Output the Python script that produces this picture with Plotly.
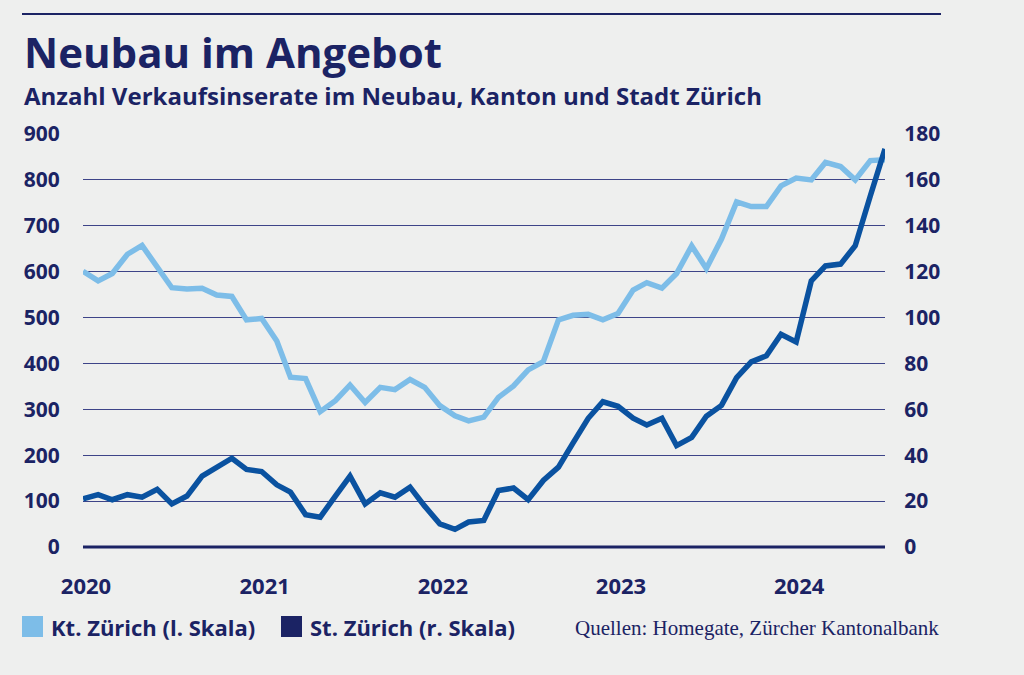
import pandas as pd
import plotly.graph_objects as go

months = pd.date_range("2020-01-01", "2024-07-01", freq="MS")

kt_zuerich = [601, 580, 596, 638, 657, 612, 565, 562, 564, 549, 546, 495,
              498, 449, 370, 367, 295, 319, 353, 315, 348, 343, 365, 348,
              308, 286, 275, 283, 326, 351, 386, 404, 495, 505, 507, 495,
              509, 560, 576, 564, 596, 656, 607, 671, 752, 742, 742, 787,
              804, 800, 838, 829, 800, 842, 844]

st_zuerich = [21.0, 22.8, 20.6, 22.8, 21.7, 25.1, 18.8, 22.2, 30.9, 34.8, 38.7, 33.8,
              32.9, 27.1, 23.9, 14.1, 13.0, 22.2, 30.9, 18.8, 23.6, 21.7, 26.1, 17.8,
              10.1, 7.7, 10.9, 11.6, 24.6, 25.7, 20.6, 29.0, 34.8, 45.4, 56.1, 63.3,
              61.3, 56.1, 53.2, 56.1, 44.2, 47.8, 57.0, 61.7, 73.8, 80.7, 83.3, 92.7,
              89.4, 116.0, 122.5, 123.3, 131.3, 153.1, 173.5]

left_ticks = [0, 100, 200, 300, 400, 500, 600, 700, 800, 900]
right_ticks = [0, 20, 40, 60, 80, 100, 120, 140, 160, 180]
year_ticks = ["2020", "2021", "2022", "2023", "2024"]

title = "Neubau im Angebot"
subtitle = "Anzahl Verkaufsinserate im Neubau, Kanton und Stadt Zürich"
legend_kt = "Kt. Zürich (l. Skala)"
legend_st = "St. Zürich (r. Skala)"
source = "Quellen: Homegate, Zürcher Kantonalbank"

NAVY = "#1b2364"
LIGHT = "#7dbde8"
DARK = "#0a52a0"
BG = "#eeefee"
FONT = "Open Sans"

# pixel helpers (plot area: x 83..885, y 134..547)
L, R, T, B = 83, 885, 134, 547
def px(x):
    return (x - L) / (R - L)
def py(y):
    return (B - y) / (B - T)

fig = go.Figure()
fig.add_trace(go.Scatter(x=months, y=kt_zuerich, mode="lines",
                         line=dict(color=LIGHT, width=5.5), name=legend_kt,
                         yaxis="y"))
fig.add_trace(go.Scatter(x=months, y=st_zuerich, mode="lines",
                         line=dict(color=DARK, width=5.5), name=legend_st,
                         yaxis="y2"))

tickfont = dict(family=FONT, size=21, color=NAVY, weight="bold")

fig.update_layout(
    width=1024, height=675,
    margin=dict(l=L, r=1024 - R, t=T, b=675 - B, pad=0),
    paper_bgcolor=BG, plot_bgcolor=BG,
    showlegend=False,
    xaxis=dict(
        range=[months[0], months[-1]],
        tickvals=[pd.Timestamp(f"{y}-01-01") for y in year_ticks],
        ticktext=year_ticks,
        showgrid=False, zeroline=False, showline=False,
        ticks="outside", ticklen=20, tickcolor="rgba(0,0,0,0)",
        ticklabelshift=3,
        tickfont=dict(family=FONT, size=22, color=NAVY, weight="bold"),
    ),
    yaxis=dict(
        range=[0, 900], tickvals=left_ticks,
        showgrid=True, gridcolor="#3d4488", gridwidth=1,
        zeroline=False, showline=False,
        ticks="outside", ticklen=18, tickcolor="rgba(0,0,0,0)",
        tickfont=tickfont,
    ),
    yaxis2=dict(
        range=[0, 180], tickvals=right_ticks, overlaying="y", side="right",
        showgrid=False, zeroline=False, showline=False,
        ticks="outside", ticklen=14, tickcolor="rgba(0,0,0,0)",
        tickfont=tickfont,
    ),
)

shapes = [
    # top rule
    dict(type="line", xref="paper", yref="paper", x0=px(22), x1=px(941),
         y0=py(14), y1=py(14), line=dict(color=NAVY, width=2)),
    # zero baseline
    dict(type="line", xref="paper", yref="paper", x0=0, x1=1,
         y0=0, y1=0, line=dict(color=NAVY, width=3)),
    # legend swatches
    dict(type="rect", xref="paper", yref="paper", x0=px(22), x1=px(43),
         y0=py(637), y1=py(616), fillcolor=LIGHT, line=dict(width=0)),
    dict(type="rect", xref="paper", yref="paper", x0=px(281), x1=px(302),
         y0=py(637), y1=py(616), fillcolor=NAVY, line=dict(width=0)),
]
fig.update_layout(shapes=shapes)

ann = [
    dict(text=title, x=px(22), y=py(52), xanchor="left", yanchor="middle",
         font=dict(family=FONT, size=42, color=NAVY, weight="bold")),
    dict(text=subtitle, x=px(22), y=py(96), xanchor="left", yanchor="middle",
         font=dict(family=FONT, size=24, color=NAVY, weight="bold")),
    dict(text=legend_kt, x=px(49), y=py(627), xanchor="left", yanchor="middle",
         font=dict(family=FONT, size=22, color=NAVY, weight="bold")),
    dict(text=legend_st, x=px(308), y=py(627), xanchor="left", yanchor="middle",
         font=dict(family=FONT, size=22, color=NAVY, weight="bold")),
    dict(text=source, x=px(941), y=py(628), xanchor="right", yanchor="middle",
         font=dict(family="Liberation Serif", size=21, color=NAVY)),
]
for a in ann:
    a.update(xref="paper", yref="paper", showarrow=False)
fig.update_layout(annotations=ann)

fig.write_html(
    "out.html",
    config={"displayModeBar": False},
    post_script="document.body.style.margin='0';document.body.style.background='%s';" % BG,
)
